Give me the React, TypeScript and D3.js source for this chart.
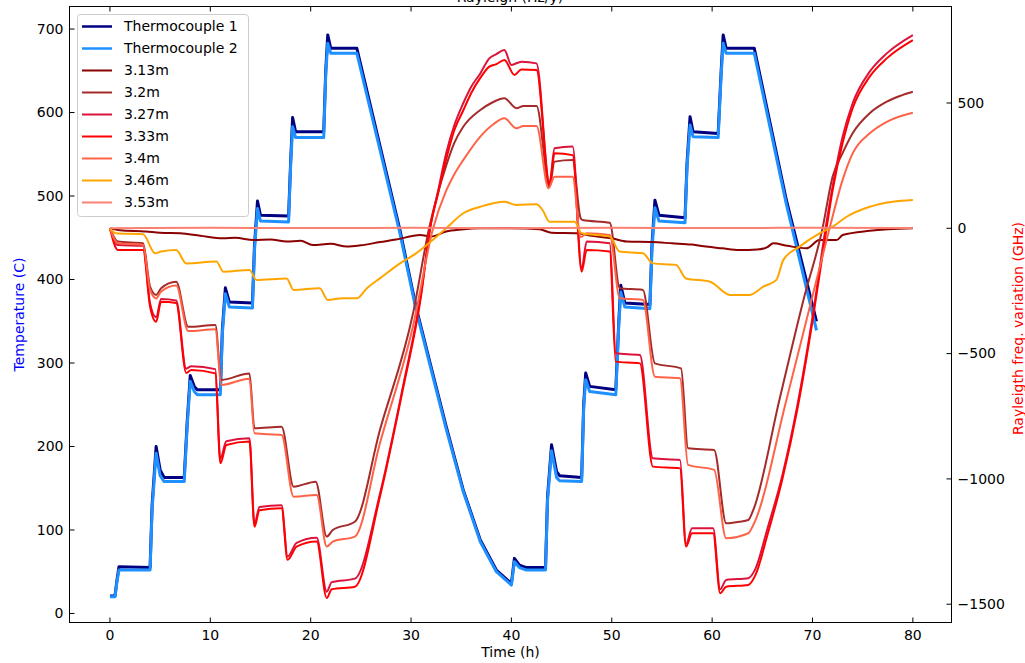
import * as d3 from "d3"

// time (h), temperature (C)
const thermo1: [number, number][] = [
  [0, 21], [0.5, 21], [0.7, 40], [0.9, 56], [4.0, 55], [4.2, 130], [4.6, 200], [5.0, 172], [5.4, 163],
  [7.4, 163], [7.7, 230], [8.0, 285], [8.4, 272], [8.7, 268], [11.0, 268], [11.2, 340], [11.5, 390],
  [11.9, 373], [14.2, 372], [14.4, 440], [14.7, 494], [15.0, 477], [17.8, 476], [18.0, 540], [18.2, 594],
  [18.5, 577], [21.3, 577], [21.5, 650], [21.7, 693], [22.0, 677], [24.6, 677], [28.9, 459], [30.5, 367],
  [31.9, 300], [33.5, 224], [35.2, 148], [36.9, 88], [38.5, 52], [40.0, 36], [40.3, 66], [40.8, 58],
  [41.5, 55], [43.4, 55], [43.6, 140], [44.0, 202], [44.5, 170], [44.8, 165], [47.0, 163], [47.2, 250],
  [47.4, 288], [47.8, 272], [50.4, 268], [50.7, 350], [50.9, 393], [51.3, 372], [53.8, 370], [54.0, 440],
  [54.3, 495], [54.7, 477], [57.3, 474], [57.5, 540], [57.8, 595], [58.1, 577], [60.6, 575], [60.9, 650],
  [61.1, 693], [61.4, 677], [64.2, 677], [67.4, 495], [70.4, 350],
]
const thermo2: [number, number][] = [
  [0, 20], [0.5, 20], [0.7, 38], [0.9, 52], [4.0, 52], [4.2, 125], [4.6, 192], [5.0, 165], [5.4, 158],
  [7.4, 158], [7.7, 225], [8.0, 278], [8.4, 266], [8.7, 262], [11.0, 262], [11.2, 335], [11.5, 383],
  [11.9, 367], [14.2, 366], [14.4, 435], [14.7, 485], [15.0, 470], [17.8, 469], [18.0, 535], [18.2, 583],
  [18.5, 570], [21.3, 570], [21.5, 645], [21.7, 683], [22.0, 671], [24.6, 671], [28.9, 455], [30.5, 364],
  [31.9, 297], [33.5, 221], [35.2, 146], [36.9, 86], [38.5, 50], [40.0, 34], [40.3, 62], [40.8, 55],
  [41.5, 52], [43.4, 52], [43.6, 135], [44.0, 195], [44.5, 163], [44.8, 159], [47.0, 158], [47.2, 245],
  [47.4, 280], [47.8, 266], [50.4, 262], [50.7, 345], [50.9, 385], [51.3, 367], [53.8, 365], [54.0, 435],
  [54.3, 486], [54.7, 470], [57.3, 468], [57.5, 535], [57.8, 585], [58.1, 571], [60.6, 570], [60.9, 645],
  [61.1, 683], [61.4, 671], [64.2, 671], [67.4, 490], [70.4, 339],
]

// time (h), Rayleigh frequency variation (GHz)
const ray313: [number, number][] = [
  [0, 0], [1, -8], [3.6, -13], [5, -18], [7, -20], [9, -30], [11.3, -40], [12.5, -38], [14.3, -47], [16, -45],
  [17.6, -53], [19, -50], [20.2, -67], [22, -62], [23.6, -73], [25, -68], [26.9, -55], [28.5, -45], [30.9, -27],
  [32, -33], [33.5, -13], [35, -5], [36.9, 0], [40, 0], [42.8, -4], [44, -18], [46.6, -20], [48, -30], [50, -40],
  [51.5, -53], [54, -55], [56, -60], [58, -65], [59.4, -73], [61, -80], [62.7, -87], [64.5, -85], [65.5, -75],
  [66.1, -60], [67.5, -70], [69.4, -80], [70.7, -47], [72.4, -47], [73, -27], [75.7, -10], [80, 0],
]
const ray320: [number, number][] = [
  [0, 0], [0.8, -53], [3.3, -60], [4.0, -233], [4.6, -266], [5.1, -239], [6.6, -213], [7.8, -393], [10.5, -386],
  [11.1, -605], [13.9, -579], [14.4, -798], [17.1, -792], [18.3, -1031], [20.5, -1011], [21.6, -1230],
  [22.2, -1204], [24.4, -1171], [26.9, -805], [30.2, -339], [31.8, 0], [32.6, 130], [33.5, 250], [34.3, 340],
  [35.2, 405], [36.9, 472], [38, 500], [39.3, 519], [40.5, 479], [41.2, 488], [42.5, 488], [43.8, 166],
  [44.3, 266], [46.1, 272], [46.9, 40], [47.1, 33], [49.8, 22], [50.8, -239], [53.1, -246], [54.3, -539],
  [56.9, -559], [57.6, -878], [60.2, -885], [61.4, -1177], [62.7, -1171], [63.6, -1164], [64.1, -1124],
  [66.7, -685], [69.1, -286], [71.0, 0], [72, 206], [73, 300], [74, 379], [75.7, 459], [77.4, 505],
  [78.7, 528], [80, 545],
]
const ray327: [number, number][] = [
  [0, 0], [0.8, -67], [3.3, -70], [4.0, -300], [4.6, -355], [5.1, -282], [6.6, -288], [7.6, -560], [8.1, -550],
  [10.5, -562], [11.0, -920], [11.6, -850], [13.9, -838], [14.4, -1180], [14.9, -1112], [17.1, -1105],
  [17.7, -1310], [18.6, -1255], [20.6, -1235], [21.6, -1450], [22.1, -1412], [24.4, -1398], [26.9, -1060],
  [29.2, -630], [31.0, -260], [31.9, 0], [32.7, 150], [33.5, 299], [34.3, 410], [35.2, 499], [36.0, 565],
  [36.9, 618], [37.8, 678], [38.5, 695], [39.3, 711], [40.0, 652], [41.0, 665], [42.5, 658], [43.8, 180],
  [44.3, 319], [46.1, 326], [47.0, -160], [47.5, -53], [49.8, -60], [50.4, -499], [52.8, -506], [54.1, -918],
  [56.8, -925], [57.4, -1260], [58.0, -1197], [60.1, -1197], [60.8, -1440], [61.4, -1403], [63.6, -1396],
  [64.3, -1360], [65.5, -1200], [67, -985], [68.5, -705], [70, -355], [71.3, 0], [72, 166], [73, 365],
  [74, 499], [75.7, 625], [77.4, 698], [80, 771],
]
const ray333: [number, number][] = [
  [0, 0], [0.8, -87], [3.3, -87], [4.0, -313], [4.6, -373], [5.1, -293], [6.6, -298], [7.6, -577], [8.1, -565],
  [10.5, -579], [11.0, -938], [11.6, -865], [13.9, -851], [14.4, -1191], [14.9, -1125], [17.1, -1117],
  [17.7, -1323], [18.6, -1270], [20.6, -1250], [21.6, -1475], [22.1, -1440], [24.4, -1430], [26.9, -1071],
  [29.2, -640], [31.0, -270], [31.9, 0], [32.7, 140], [33.5, 275], [34.3, 390], [35.2, 470], [36.0, 540],
  [36.9, 600], [37.8, 645], [38.5, 655], [39.3, 672], [40.3, 612], [41.0, 634], [42.5, 632], [43.8, 173],
  [44.3, 299], [46.1, 292], [47.0, -173], [47.5, -87], [49.8, -93], [50.4, -532], [52.8, -539], [54.1, -951],
  [56.8, -958], [57.4, -1270], [58.0, -1217], [60.1, -1217], [60.8, -1456], [61.4, -1430], [63.6, -1423],
  [64.3, -1385], [65.5, -1225], [67, -1000], [68.5, -720], [70, -370], [71.4, 0], [72, 150], [73, 340],
  [74, 479], [75.7, 605], [77.4, 678], [80, 751],
]
const ray340: [number, number][] = [
  [0, 0], [0.8, -60], [3.3, -66], [4.0, -245], [4.6, -280], [5.1, -252], [6.6, -228], [7.8, -410], [10.5, -403],
  [11.1, -625], [13.9, -600], [14.4, -818], [17.1, -825], [18.3, -1071], [20.6, -1064], [21.6, -1270],
  [22.2, -1250], [24.4, -1230], [26.9, -858], [30.2, -390], [32.2, 0], [33.5, 150], [34.3, 215], [35.2, 272],
  [36.9, 366], [38.2, 415], [39.3, 439], [40.5, 399], [41.2, 408], [42.5, 408], [43.7, 160], [44.3, 206],
  [46.1, 206], [46.9, -35], [47.5, -20], [49.8, -27], [50.8, -279], [53.1, -286], [54.3, -592], [56.8, -598],
  [57.6, -944], [60.2, -964], [61.4, -1237], [63.6, -1217], [64.1, -1184], [67.4, -685], [69.9, -286],
  [71.7, 0], [73, 193], [74, 299], [75.7, 379], [77.4, 425], [80, 461],
]
const ray346: [number, number][] = [
  [0, 0], [0.6, -20], [3.3, -24], [4.5, -100], [5.1, -93], [6.6, -87], [7.6, -140], [10.6, -133], [11.3, -173],
  [13.9, -166], [14.6, -206], [17.6, -200], [18.3, -246], [20.9, -239], [21.7, -286], [23.2, -279],
  [24.6, -279], [25.6, -239], [26.9, -200], [28.9, -140], [30.5, -100], [31.9, -55], [33.5, 0], [35.2, 60],
  [36.9, 86], [39.3, 106], [40.5, 93], [42.5, 96], [43.1, 73], [43.8, 26], [46.3, 26], [47, -20], [49.8, -33],
  [50.8, -93], [53.1, -100], [54.1, -140], [56.4, -146], [57.4, -200], [59.8, -213], [61.8, -266],
  [63.7, -266], [65.1, -233], [66.4, -206], [67.1, -126], [68.7, -73], [70.7, -20], [72, 6], [73.4, 46],
  [75.7, 86], [78, 106], [80, 113],
]
const ray353: [number, number][] = [
  [0, 0], [10, 2], [20, 1], [30, 2], [40, 0], [50, 2], [60, 1], [70, 2], [80, 1],
]

const timeTicks = [0, 10, 20, 30, 40, 50, 60, 70, 80]
const tempTicks = [0, 100, 200, 300, 400, 500, 600, 700]
const freqTicks = [-1500, -1000, -500, 0, 500]

const tempSeries = [
  { label: "Thermocouple 1", color: "#000080", data: thermo1 },
  { label: "Thermocouple 2", color: "#1e90ff", data: thermo2 },
]
const raySeries = [
  { label: "3.13m", color: "#8b0000", data: ray313 },
  { label: "3.2m", color: "#a52a2a", data: ray320 },
  { label: "3.27m", color: "#dc143c", data: ray327 },
  { label: "3.33m", color: "#ff0000", data: ray333 },
  { label: "3.4m", color: "#ff6347", data: ray340 },
  { label: "3.46m", color: "#ffa500", data: ray346 },
  { label: "3.53m", color: "#fa8072", data: ray353 },
]

const W = 1025
const H = 663
const margin = { top: 6.5, right: 73.5, bottom: 40.5, left: 69.5 }
const font = "'DejaVu Sans', sans-serif"

export default function App() {
  const x = d3.scaleLinear().domain([-4.03, 83.85]).range([margin.left, W - margin.right])
  const yT = d3.scaleLinear().domain([-10.8, 727]).range([H - margin.bottom, margin.top])
  const yR = d3.scaleLinear().domain([-1573, 885]).range([H - margin.bottom, margin.top])

  const lineT = d3.line<[number, number]>().x((d) => x(d[0])).y((d) => yT(d[1]))
  // the fibre readings bend smoothly between samples
  const lineR = d3
    .line<[number, number]>()
    .x((d) => x(d[0]))
    .y((d) => yR(d[1]))
    .curve(d3.curveMonotoneX)

  const x0 = margin.left
  const x1 = W - margin.right
  const y0 = margin.top
  const y1 = H - margin.bottom

  const legendItems = [...tempSeries, ...raySeries]

  return (
    <svg
      width={W}
      height={H}
      style={{ position: "absolute", left: 0, top: 0, background: "#fff" }}
      fontFamily={font}
      fontSize={14}
    >
      <rect x={0} y={0} width={W} height={H} fill="#fff" />
      <text x={510} y={2} textAnchor="middle" fill="#000">
        Rayleigh (Hz/y)
      </text>

      <g>
        {tempSeries.map((s) => (
          <path key={s.label} d={lineT(s.data) || ""} fill="none" stroke={s.color} strokeWidth={3} strokeLinejoin="round" />
        ))}
        {raySeries.map((s) => (
          <path key={s.label} d={lineR(s.data) || ""} fill="none" stroke={s.color} strokeWidth={2} strokeLinejoin="round" />
        ))}
      </g>

      {/* frame */}
      <rect x={x0} y={y0} width={x1 - x0} height={y1 - y0} fill="none" stroke="#000" strokeWidth={1} />

      {/* x ticks */}
      {timeTicks.map((t) => (
        <g key={t}>
          <line x1={x(t)} x2={x(t)} y1={y1} y2={y1 - 5} stroke="#000" />
          <line x1={x(t)} x2={x(t)} y1={y0} y2={y0 + 5} stroke="#000" />
          <text x={x(t)} y={y1 + 17} textAnchor="middle" fill="#000">
            {t}
          </text>
        </g>
      ))}
      {tempTicks.map((t) => (
        <g key={t}>
          <line x1={x0} x2={x0 + 5} y1={yT(t)} y2={yT(t)} stroke="#000" />
          <text x={x0 - 6} y={yT(t)} dy="0.35em" textAnchor="end" fill="#000">
            {t}
          </text>
        </g>
      ))}
      {freqTicks.map((t) => (
        <g key={t}>
          <line x1={x1} x2={x1 - 5} y1={yR(t)} y2={yR(t)} stroke="#000" />
          <text x={x1 + 6} y={yR(t)} dy="0.35em" textAnchor="start" fill="#000">
            {d3.format("d")(t).replace("-", "\u2212")}
          </text>
        </g>
      ))}

      <text x={(x0 + x1) / 2} y={657} textAnchor="middle" fill="#000">
        Time (h)
      </text>
      <text transform={`translate(19,${(y0 + y1) / 2}) rotate(-90)`} textAnchor="middle" dy="0.35em" fill="#0000ff">
        Temperature (C)
      </text>
      <text transform={`translate(1018,${(y0 + y1) / 2 + 14}) rotate(-90)`} textAnchor="middle" dy="0.35em" fill="#ff0000">
        Rayleigth freq. variation (GHz)
      </text>

      {/* legend */}
      <rect x={77.5} y={14.5} width={171} height={202} rx={3} fill="#fff" fillOpacity={0.8} stroke="#ccc" />
      {legendItems.map((s, i) => {
        const cy = 26.5 + i * 22
        return (
          <g key={s.label}>
            <line x1={82} x2={112} y1={cy} y2={cy} stroke={s.color} strokeWidth={i < 2 ? 2.5 : 2} />
            <text x={124} y={cy} dy="0.35em" fill="#000">
              {s.label}
            </text>
          </g>
        )
      })}
    </svg>
  )
}
